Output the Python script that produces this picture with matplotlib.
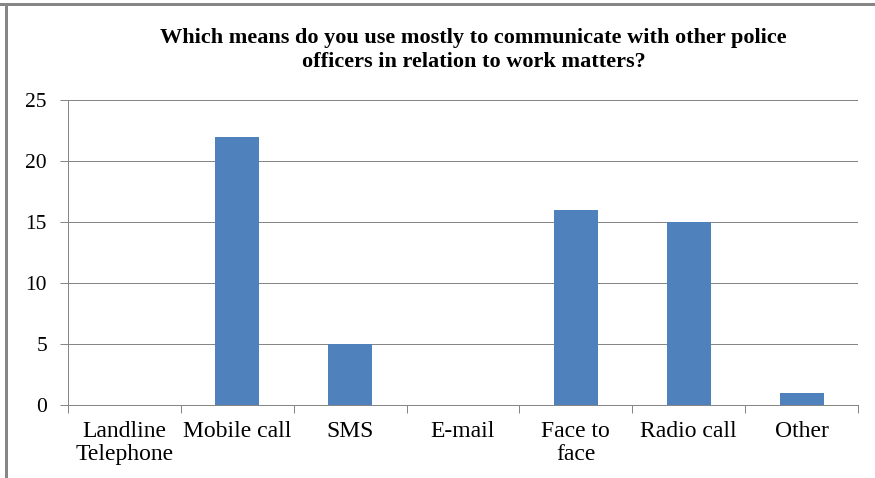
import matplotlib
matplotlib.use("Agg")
import matplotlib.pyplot as plt
from matplotlib.lines import Line2D
import numpy as np

categories = ["Landline\nTelephone", "Mobile call", "SMS", "E-mail", "Face to\nface", "Radio call", "Other"]
values = [0, 22, 5, 0, 16, 15, 1]
yticks = [0, 5, 10, 15, 20, 25]
title_lines = ["Which means do you use mostly to communicate with other police",
               "officers in relation to work matters?"]

plt.rcParams['font.family'] = ['Liberation Serif', 'DejaVu Serif']
grid_c = "#868686"
PX = 72 / 100  # points per pixel

fig = plt.figure(figsize=(8.75, 4.78), dpi=100)
ax = fig.add_axes([68/875, 1-405/478, (858-68)/875, (405-100)/478])

x = np.arange(len(categories))
ax.bar(x, values, width=0.39, color="#4F81BD", zorder=3)
ax.set_xlim(-0.5, len(categories)-0.5)
ax.set_ylim(0, 25)
ax.set_yticks(yticks)
ax.set_yticklabels([str(t) for t in yticks], fontsize=15.5)
ax.yaxis.grid(True, color=grid_c, linewidth=1*PX, zorder=0)
ax.tick_params(axis='y', length=8*PX, width=1*PX, color=grid_c, pad=13*PX)

ax.set_xticks(x)
ax.set_xticklabels(categories, fontsize=17, linespacing=1.15)
ax.tick_params(axis='x', length=0, pad=16*PX)
ax.set_xticks(np.arange(-0.5, len(categories)), minor=True)
ax.tick_params(axis='x', which='minor', length=8*PX, width=1*PX, color=grid_c)

for s in ['top', 'right']:
    ax.spines[s].set_visible(False)
for s in ['left', 'bottom']:
    ax.spines[s].set_color(grid_c)
    ax.spines[s].set_linewidth(1*PX)

for i, (line, yb) in enumerate(zip(title_lines, [43, 67])):
    fig.text(473.5/875, 1-yb/478, line, ha='center', va='baseline', fontsize=16,
             fontweight='bold')

fig.add_artist(Line2D([0, 1], [1-4/478, 1-4/478], color=grid_c, linewidth=3*PX, transform=fig.transFigure))
fig.add_artist(Line2D([6/875, 6/875], [0, 1-4/478], color=grid_c, linewidth=3*PX, transform=fig.transFigure))

fig.savefig("out.png", dpi=100)
